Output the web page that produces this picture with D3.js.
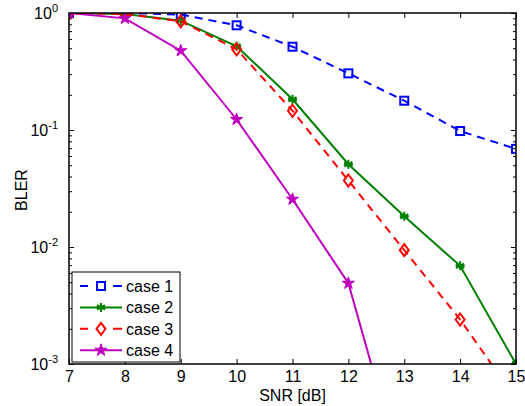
<!DOCTYPE html>
<html>
<head>
<meta charset="utf-8">
<script src="https://cdn.jsdelivr.net/npm/d3@7"></script>
<style>
  body { margin: 0; background: #fff; }
  text { font-family: "Liberation Sans", Arial, sans-serif; }
</style>
</head>
<body>
<script>
// data
let snr = [7, 8, 9, 10, 11, 12, 13, 14, 15]
let case1 = [1.0, 1.0, 0.97, 0.785, 0.515, 0.305, 0.178, 0.098, 0.069]
let case2 = [1.0, 0.98, 0.86, 0.52, 0.183, 0.051, 0.0183, 0.0069, 0.001]
let case3 = [1.0, 0.98, 0.85, 0.49, 0.146, 0.037, 0.0094, 0.0024, 0.0005]
let case4 = [1.0, 0.90, 0.476, 0.123, 0.0256, 0.0049, 0.0001, 0.00002, 0.000005]
let seriesNames = ['case 1', 'case 2', 'case 3', 'case 4']
let xTicks = [7, 8, 9, 10, 11, 12, 13, 14, 15]
let yTicks = [1e-3, 1e-2, 1e-1, 1]

let width = 525
let height = 406
let plotLeft = 69, plotRight = 516, plotTop = 13, plotBottom = 364
let fontSize = 16

const series = [
  {name: seriesNames[0], values: case1, color: '#0000ff', dash: '8,6', marker: 'square'},
  {name: seriesNames[1], values: case2, color: '#008000', dash: null, marker: 'asterisk'},
  {name: seriesNames[2], values: case3, color: '#ff0000', dash: '8,6', marker: 'diamond'},
  {name: seriesNames[3], values: case4, color: '#bf00bf', dash: null, marker: 'star'}
]

const svg = d3.select('body').append('svg').attr('width', width).attr('height', height)

const x = d3.scaleLinear().domain([7, 15]).range([plotLeft, plotRight])
const y = d3.scaleLog().domain([1e-3, 1]).range([plotBottom, plotTop])

svg.append('defs').append('clipPath').attr('id', 'clip')
  .append('rect').attr('x', plotLeft).attr('y', plotTop)
  .attr('width', plotRight - plotLeft).attr('height', plotBottom - plotTop)

// minor log ticks
let minor = []
for (let e = -3; e < 0; e++) {
  for (let m = 2; m <= 9; m++) minor.push(m * Math.pow(10, e))
}

const axisG = svg.append('g')
axisG.append('g').attr('transform', `translate(0,${plotBottom})`)
  .call(d3.axisBottom(x).tickValues(xTicks).tickSizeInner(-5).tickSizeOuter(0).tickPadding(7))
axisG.append('g').attr('transform', `translate(0,${plotTop})`)
  .call(d3.axisTop(x).tickValues(xTicks).tickSizeInner(-5).tickSizeOuter(0).tickFormat(''))
axisG.append('g').attr('transform', `translate(${plotLeft},0)`)
  .call(d3.axisLeft(y).tickValues(yTicks).tickSizeInner(-5).tickSizeOuter(0).tickFormat(''))
axisG.append('g').attr('transform', `translate(${plotRight},0)`)
  .call(d3.axisRight(y).tickValues(yTicks).tickSizeInner(-5).tickSizeOuter(0).tickFormat(''))
axisG.append('g').attr('transform', `translate(${plotLeft},0)`)
  .call(d3.axisLeft(y).tickValues(minor).tickSizeInner(-3).tickSizeOuter(0).tickFormat(''))
axisG.append('g').attr('transform', `translate(${plotRight},0)`)
  .call(d3.axisRight(y).tickValues(minor).tickSizeInner(-3).tickSizeOuter(0).tickFormat(''))
axisG.selectAll('.domain').remove()
axisG.selectAll('line').attr('stroke', '#000').attr('stroke-width', 1)
axisG.selectAll('text').attr('font-size', fontSize).attr('fill', '#000')

// y labels 10^n
yTicks.forEach(v => {
  let t = svg.append('text').attr('x', plotLeft - 11).attr('y', y(v) + 6)
    .attr('text-anchor', 'end').attr('font-size', fontSize)
  t.append('tspan').text('10')
  t.append('tspan').attr('dy', -7).attr('font-size', 11).text(Math.round(Math.log10(v)))
})

const plot = svg.append('g').attr('clip-path', 'url(#clip)')

const line = d3.line().x((d, i) => x(snr[i])).y(d => y(d))

function drawMarker(g, type, color) {
  if (type === 'square') {
    g.append('rect').attr('x', -4).attr('y', -4).attr('width', 8).attr('height', 8)
      .attr('fill', 'none').attr('stroke', color).attr('stroke-width', 2)
  } else if (type === 'diamond') {
    g.append('path').attr('d', 'M0,-6L4.5,0L0,6L-4.5,0Z')
      .attr('fill', 'none').attr('stroke', color).attr('stroke-width', 2)
  } else if (type === 'asterisk') {
    g.append('path').attr('d', 'M0,-4.5L0,4.5M-4,-2.3L4,2.3M-4,2.3L4,-2.3M-4.5,0L4.5,0')
      .attr('stroke', color).attr('stroke-width', 2)
  } else if (type === 'star') {
    g.append('path').attr('d', d3.symbol(d3.symbolStar, 46)())
      .attr('fill', color).attr('stroke', color).attr('stroke-width', 1)
  }
}

series.forEach(s => {
  plot.append('path').datum(s.values).attr('d', line)
    .attr('fill', 'none').attr('stroke', s.color).attr('stroke-width', 2)
    .attr('stroke-dasharray', s.dash)
  s.values.forEach((v, i) => {
    let g = plot.append('g').attr('transform', `translate(${x(snr[i])},${y(v)})`)
    drawMarker(g, s.marker, s.color)
  })
})

// box
svg.append('rect').attr('x', plotLeft).attr('y', plotTop)
  .attr('width', plotRight - plotLeft).attr('height', plotBottom - plotTop)
  .attr('fill', 'none').attr('stroke', '#000').attr('stroke-width', 1.5)

// legend
const lg = svg.append('g').attr('transform', 'translate(72,272)')
lg.append('rect').attr('width', 108).attr('height', 90).attr('fill', '#fff').attr('stroke', '#000').attr('stroke-width', 1)
series.forEach((s, i) => {
  let yy = 14 + i * 21.4
  lg.append('line').attr('x1', 8).attr('x2', 50).attr('y1', yy).attr('y2', yy)
    .attr('stroke', s.color).attr('stroke-width', 2).attr('stroke-dasharray', s.dash ? '8,25,9' : null)
  let g = lg.append('g').attr('transform', `translate(29,${yy})`)
  drawMarker(g, s.marker, s.color)
  lg.append('text').attr('x', 54).attr('y', yy + 6).attr('font-size', fontSize).text(s.name)
})

// axis titles
svg.append('text').attr('x', (plotLeft + plotRight) / 2).attr('y', 401).attr('text-anchor', 'middle')
  .attr('font-size', fontSize).text('SNR [dB]')
svg.append('text').attr('transform', 'translate(27,190) rotate(-90)').attr('text-anchor', 'middle')
  .attr('font-size', fontSize).text('BLER')
</script>
</body>
</html>
